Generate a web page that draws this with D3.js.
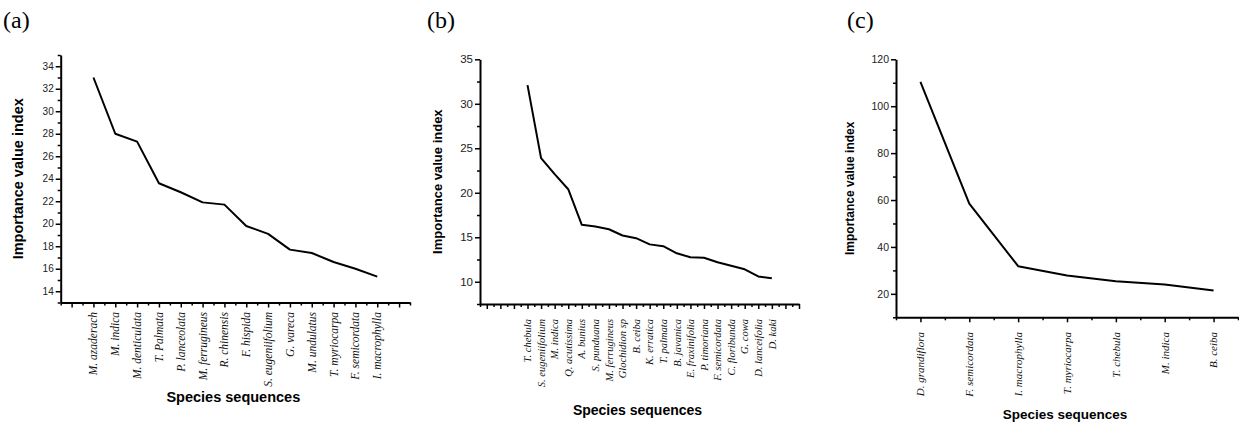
<!DOCTYPE html>
<html><head><meta charset="utf-8">
<script src="https://cdn.jsdelivr.net/npm/d3@7"></script>
<style>
body{margin:0;background:#fff;}
svg{display:block;}
</style></head>
<body>
<svg id="chart" width="1239" height="422"></svg>
<script>
// ---- data ----
const aSpecies = ["M. azaderach","M. indica","M. denticulata","T. Palmata","P. lanceolata","M. ferrugineus","R. chinensis","F. hispida","S. eugeniifolium","G. vareca","M. undulatus","T. myriocarpa","F. semicordata","I. macrophylla"];
const aValues = [33.0, 28.0, 27.3, 23.6, 22.8, 21.9, 21.7, 19.8, 19.1, 17.7, 17.4, 16.6, 16.0, 15.3];
const aYTicks = [14,16,18,20,22,24,26,28,30,32,34];

const bSpecies = ["T. chebula","S. eugeniifolium","M. indica","Q. acutissima","A. bunius","S. punduana","M. ferrugineus","Glochidion sp","B. ceiba","K. erratica","T. palmata","B. javanica","E. fraxinifolia","P. timoriana","F. semicordata","C. floribunda","G. cowa","D. lanceifolia","D. kaki"];
const bValues = [32.1, 23.9, 22.1, 20.4, 16.4, 16.2, 15.9, 15.2, 14.9, 14.2, 14.0, 13.2, 12.75, 12.7, 12.2, 11.8, 11.4, 10.6, 10.4];
const bYTicks = [10,15,20,25,30,35];

const cSpecies = ["D. grandiflora","F. semicordata","I. macrophylla","T. myriocarpa","T. chebula","M. indica","B. ceiba"];
const cValues = [110.4, 58.5, 31.8, 27.8, 25.4, 24.0, 21.4];
const cYTicks = [20,40,60,80,100,120];

const panelLabels = ["(a)","(b)","(c)"];
const yTitle = "Importance value index";
const xTitle = "Species sequences";

// ---- layout ----
const svg = d3.select("#chart");
const panels = [
  {species:aSpecies, values:aValues, yticks:aYTicks, ydom:[13,35], yminorStep:1,
   xdom:[-1.5,14.5], xr:[60.7,410], yr:[302.5,55],
   tickFont:10, spFont:11.5, spTop:312, yTitleX:18, yTitleSize:14.5, xTitleY:402, xTitleSize:14.5,
   label:panelLabels[0], labelX:3},
  {species:bSpecies, values:bValues, yticks:bYTicks, ydom:[7.5,35], yminorStep:2.5,
   xdom:[-3.5,20], xr:[480,799], yr:[304,59.3],
   tickFont:11.5, spFont:10.5, spTop:319, yTitleX:437, yTitleSize:13, xTitleY:415, xTitleSize:14,
   label:panelLabels[1], labelX:427},
  {species:cSpecies, values:cValues, yticks:cYTicks, ydom:[10,120], yminorStep:10,
   xdom:[-0.5,6.5], xr:[896,1238], yr:[317.3,59.3],
   tickFont:10.5, spFont:11, spTop:332, yTitleX:850, yTitleSize:12, xTitleY:419, xTitleSize:13.5,
   label:panelLabels[2], labelX:847}
];

panels.forEach(p => {
  const g = svg.append("g");
  const x = d3.scaleLinear().domain(p.xdom).range(p.xr);
  const y = d3.scaleLinear().domain(p.ydom).range(p.yr);

  // x axis: major ticks at integers, minor at halves
  const xMajor = d3.range(Math.ceil(p.xdom[0]), Math.floor(p.xdom[1]) + 1);
  const xMinor = d3.range(Math.ceil(p.xdom[0]*2)/2, p.xdom[1] + 0.001, 0.5).filter(v => !Number.isInteger(v));
  const xg = g.append("g").attr("transform", `translate(0,${p.yr[0]})`);
  xg.call(d3.axisBottom(x).tickValues(xMajor).tickSize(5).tickSizeOuter(0).tickFormat(""));
  xg.append("g").call(d3.axisBottom(x).tickValues(xMinor).tickSize(3).tickSizeOuter(0).tickFormat(""))
    .select(".domain").remove();
  xg.selectAll("path.domain").attr("stroke","#000").attr("stroke-width",2);
  xg.selectAll(".tick line").attr("stroke","#000").attr("stroke-width",1.5);

  // y axis
  const yMinor = d3.range(p.ydom[0], p.ydom[1] + 0.001, p.yminorStep).filter(v => !p.yticks.includes(v));
  const yg = g.append("g").attr("transform", `translate(${p.xr[0]},0)`);
  yg.call(d3.axisLeft(y).tickValues(p.yticks).tickSize(5).tickSizeOuter(0).tickPadding(2).tickFormat(d3.format("d")));
  yg.append("g").call(d3.axisLeft(y).tickValues(yMinor).tickSize(3).tickSizeOuter(0).tickFormat(""))
    .select(".domain").remove();
  yg.selectAll("path.domain").attr("stroke","#000").attr("stroke-width",2);
  yg.selectAll(".tick line").attr("stroke","#000").attr("stroke-width",1.5);
  yg.selectAll(".tick text").attr("font-family","'Liberation Sans', Arial, sans-serif")
    .attr("font-size", p.tickFont).attr("fill","#222");

  // species labels
  g.selectAll("text.sp").data(p.species).join("text")
    .attr("class","sp")
    .attr("transform",(d,i)=>`translate(${x(i)},${p.spTop}) rotate(-90)`)
    .attr("text-anchor","end").attr("dy","0.35em")
    .attr("font-family","'Liberation Serif', 'Times New Roman', serif")
    .attr("font-style","italic").attr("font-size",p.spFont).attr("fill","#111")
    .text(d=>d);

  // line
  const line = d3.line().x((d,i)=>x(i)).y(d=>y(d));
  g.append("path").datum(p.values)
    .attr("d", line).attr("fill","none").attr("stroke","#000").attr("stroke-width",2)
    .attr("stroke-linejoin","round");

  // axis titles
  const ymid = (p.yr[0] + p.yr[1]) / 2;
  g.append("text")
    .attr("transform", `translate(${p.yTitleX},${ymid}) rotate(-90)`)
    .attr("text-anchor","middle").attr("dy","0.35em")
    .attr("font-family","'Liberation Sans', Arial, sans-serif").attr("font-weight","bold")
    .attr("font-size",p.yTitleSize).attr("fill","#000")
    .text(yTitle);
  g.append("text")
    .attr("x", (p.xr[0]+p.xr[1])/2 - 2).attr("y", p.xTitleY)
    .attr("text-anchor","middle")
    .attr("font-family","'Liberation Sans', Arial, sans-serif").attr("font-weight","bold")
    .attr("font-size",p.xTitleSize).attr("fill","#000")
    .text(xTitle);

  // panel label
  g.append("text").attr("x",p.labelX).attr("y",28)
    .attr("font-family","'Liberation Serif', 'Times New Roman', serif")
    .attr("font-size",24).attr("fill","#000").text(p.label);
});
</script>
</body></html>
